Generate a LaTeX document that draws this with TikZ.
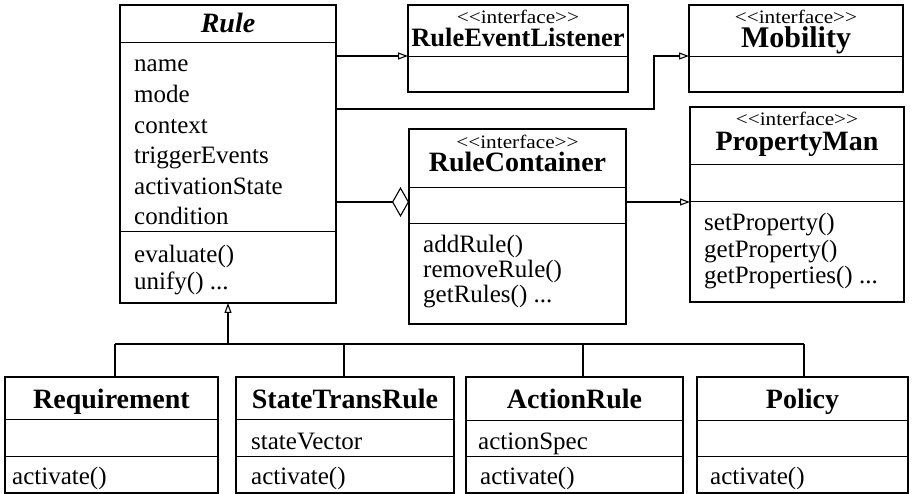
\documentclass[tikz,border=0pt]{standalone}
\usepackage{fontspec}
\setmainfont{Liberation Serif}
\newfontfamily\ifacefont{Liberation Serif}[FakeStretch=1.12]
\usetikzlibrary{arrows.meta}

\tikzset{
  cls/.style={draw, line width=1.1pt, anchor=north west, inner sep=0pt, outer sep=0pt},
  sepline/.style={line width=1pt},
  txt/.style={anchor=base west, inner sep=0pt, font=\fontsize{25}{25}\selectfont},
  ttl/.style={anchor=base, inner sep=0pt, font=\fontsize{28}{28}\selectfont\bfseries},
  iface/.style={anchor=base, inner sep=0pt, font=\fontsize{19}{19}\selectfont\ifacefont},
  link/.style={line width=1.1pt},
  realize/.style={link, -{Triangle[open, length=10pt, width=7pt]}},
  aggr/.style={link, -{Diamond[open, length=17pt, width=30pt]}},
}

\begin{document}
\begin{tikzpicture}[x=1pt, y=-1pt]
\fill[white] (0,0) rectangle (913,494);
\useasboundingbox (0,0) rectangle (913,494);

% ---------- Rule ----------
\node[cls, minimum width=216pt, minimum height=298pt] (rule) at (120,5) {};
\draw[sepline] (120,43) -- (336,43);
\draw[sepline] (120,232) -- (336,232);
\node[ttl, font=\fontsize{28}{28}\selectfont\bfseries\itshape] (rule-t) at (228,33) {Rule};
\node[txt] (rule-a1) at (134,72)  {name};
\node[txt] (rule-a2) at (134,103) {mode};
\node[txt] (rule-a3) at (134,134) {context};
\node[txt] (rule-a4) at (134,164) {triggerEvents};
\node[txt] (rule-a5) at (134,195) {activationState};
\node[txt] (rule-a6) at (134,225) {condition};
\node[txt] (rule-m1) at (134,263) {evaluate()};
\node[txt] (rule-m2) at (134,290) {unify() ...};

% ---------- RuleEventListener ----------
\node[cls, minimum width=220pt, minimum height=87pt] (rel) at (408,5) {};
\draw[sepline] (408,57) -- (628,57);
\node[iface] (rel-s) at (518,24) {<<interface>>};
\node[ttl, font=\fontsize{26.5}{26.5}\selectfont\bfseries] (rel-t) at (518,47) {RuleEventListener};

% ---------- Mobility ----------
\node[cls, minimum width=214pt, minimum height=87pt] (mob) at (689,5) {};
\draw[sepline] (689,57) -- (903,57);
\node[iface] (mob-s) at (796,24) {<<interface>>};
\node[ttl, font=\fontsize{30}{30}\selectfont\bfseries] (mob-t) at (796,48) {Mobility};

% ---------- RuleContainer ----------
\node[cls, minimum width=217pt, minimum height=195pt] (rc) at (409,129) {};
\draw[sepline] (409,188) -- (626,188);
\draw[sepline] (409,224) -- (626,224);
\node[iface] (rc-s) at (517.5,149) {<<interface>>};
\node[ttl] (rc-t) at (517.5,172) {RuleContainer};
\node[txt] (rc-m1) at (423,253) {addRule()};
\node[txt] (rc-m2) at (423,278) {removeRule()};
\node[txt] (rc-m3) at (423,303) {getRules() ...};

% ---------- PropertyMan ----------
\node[cls, minimum width=214pt, minimum height=195pt] (pm) at (690,107) {};
\draw[sepline] (690,165) -- (904,165);
\draw[sepline] (690,202) -- (904,202);
\node[iface] (pm-s) at (797,126) {<<interface>>};
\node[ttl] (pm-t) at (797,151) {PropertyMan};
\node[txt] (pm-m1) at (704,231) {setProperty()};
\node[txt] (pm-m2) at (704,258) {getProperty()};
\node[txt] (pm-m3) at (704,284) {getProperties() ...};

% ---------- Subclasses ----------
\node[cls, minimum width=213pt, minimum height=116pt] (req) at (5,377) {};
\draw[sepline] (5,419) -- (218,419);
\draw[sepline] (5,456) -- (218,456);
\node[ttl] (req-t) at (111.5,408) {Requirement};
\node[txt] (req-m1) at (12,484) {activate()};

\node[cls, minimum width=218pt, minimum height=116pt] (str) at (236,377) {};
\draw[sepline] (236,419) -- (454,419);
\draw[sepline] (236,456) -- (454,456);
\node[ttl] (str-t) at (345,408) {StateTransRule};
\node[txt] (str-a1) at (251,449) {stateVector};
\node[txt] (str-m1) at (251,484) {activate()};

\node[cls, minimum width=217pt, minimum height=116pt] (act) at (466,377) {};
\draw[sepline] (466,420) -- (683,420);
\draw[sepline] (466,456) -- (683,456);
\node[ttl] (act-t) at (574.5,408) {ActionRule};
\node[txt] (act-a1) at (478,449) {actionSpec};
\node[txt] (act-m1) at (480,484) {activate()};

\node[cls, minimum width=211pt, minimum height=116pt] (pol) at (697,377) {};
\draw[sepline] (697,420) -- (908,420);
\draw[sepline] (697,456) -- (908,456);
\node[ttl] (pol-t) at (802.5,408) {Policy};
\node[txt] (pol-m1) at (710,484) {activate()};

% ---------- Connector end points ----------
\coordinate (rel-in) at (408,56);
\coordinate (mob-in) at (689,56);
\coordinate (mob-bend) at (654,109);
\coordinate (rc-in) at (409,202);
\coordinate (pm-in) at (690,202);
\coordinate (busL) at (115,344);
\coordinate (busR) at (804,344);
\coordinate (drop-str) at (344,344);
\coordinate (drop-act) at (583,344);

% ---------- Connectors ----------
\draw[realize] (rule.east |- rel-in) -- (rel-in);
\draw[realize] (rule.east |- mob-bend) -- (mob-bend) |- (mob-in);
\draw[aggr] (rule.east |- rc-in) -- (rc-in);
\draw[realize] (rc.east |- pm-in) -- (pm-in);

% generalization tree
\draw[link] (busL) -- (busR);
\draw[realize] (rule.south |- busL) -- (rule.south);
\draw[link] (busL) -- (busL |- req.north);
\draw[link] (drop-str) -- (drop-str |- str.north);
\draw[link] (drop-act) -- (drop-act |- act.north);
\draw[link] (busR) -- (busR |- pol.north);
\end{tikzpicture}
\end{document}
